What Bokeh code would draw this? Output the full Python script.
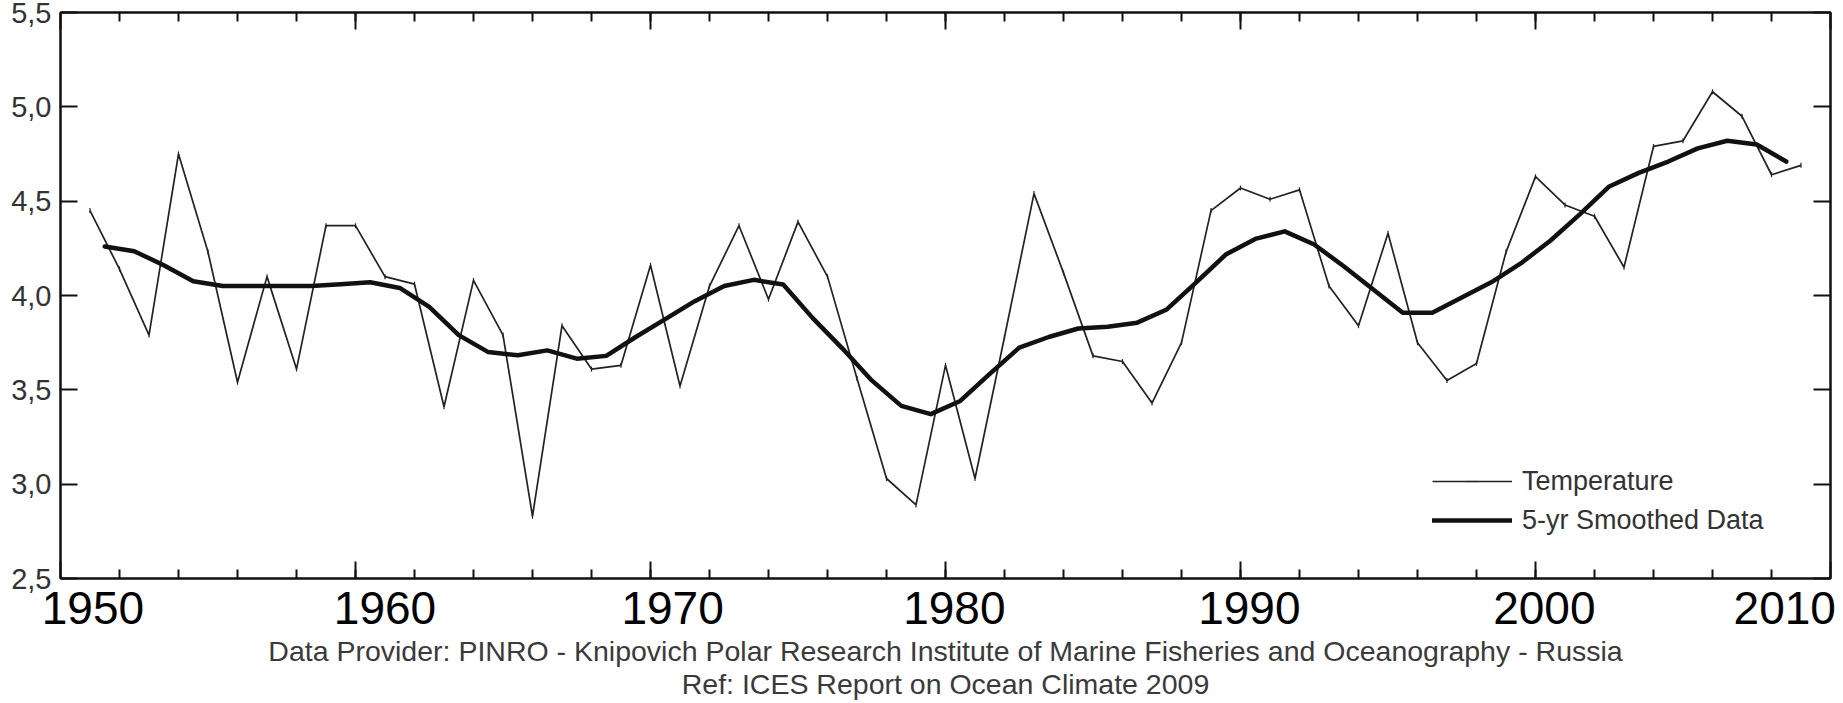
import math
from bokeh.plotting import figure
from bokeh.models import (Range1d, LinearAxis, FixedTicker, Legend, LegendItem,
                          CustomLabelingPolicy)
from bokeh.embed import file_html
from bokeh.resources import INLINE

# ---------------- data ----------------
years = list(range(1950, 2009))
temperature = [
    4.45, 4.14, 3.79, 4.75, 4.23, 3.54, 4.10, 3.61, 4.37, 4.37,   # 1950-1959
    4.10, 4.06, 3.41, 4.08, 3.79, 2.83, 3.84, 3.61, 3.63, 4.16,   # 1960-1969
    3.52, 4.05, 4.37, 3.98, 4.39, 4.10, 3.56, 3.03, 2.89, 3.63,   # 1970-1979
    3.03, 3.78, 4.54, 4.12, 3.68, 3.65, 3.43, 3.75, 4.45, 4.57,   # 1980-1989
    4.51, 4.56, 4.05, 3.84, 4.33, 3.75, 3.55, 3.64, 4.23, 4.63,   # 1990-1999
    4.48, 4.42, 4.15, 4.79, 4.82, 5.08, 4.95, 4.64, 4.69,         # 2000-2008
]
smooth_years = [y + 0.5 for y in range(1950, 2008)]
smoothed = [
    4.26, 4.235, 4.16, 4.076, 4.05, 4.05, 4.05, 4.05, 4.06, 4.07,   # 1950.5-1959.5
    4.04, 3.94, 3.79, 3.70, 3.683, 3.709, 3.665, 3.68, 3.78, 3.875, # 1960.5-1969.5
    3.97, 4.05, 4.083, 4.058, 3.88, 3.72, 3.55, 3.415, 3.371, 3.441,# 1970.5-1979.5
    3.585, 3.724, 3.78, 3.825, 3.834, 3.856, 3.926, 4.07, 4.217, 4.30,  # 1980.5-1989.5
    4.34, 4.27, 4.155, 4.032, 3.909, 3.909, 3.99, 4.07, 4.17, 4.29, # 1990.5-1999.5
    4.43, 4.578, 4.65, 4.71, 4.78, 4.82, 4.80, 4.71,                # 2000.5-2007.5
]
series_names = ["Temperature", "5-yr Smoothed Data"]

x_tick_labels = ["1950", "1960", "1970", "1980", "1990", "2000", "2010"]
x_tick_label_pos = [1950.1, 1960.0, 1969.75, 1979.3, 1989.3, 1999.3, 2007.45]
x_major_ticks = [1949, 1959, 1969, 1979, 1989, 1999, 2009]
x_minor_ticks = [y for y in range(1951, 2009, 2)]
y_ticks = [2.5, 3.0, 3.5, 4.0, 4.5, 5.0, 5.5]
y_tick_labels = ["2,5", "3,0", "3,5", "4,0", "4,5", "5,0", "5,5"]

footer_1 = ("Data Provider: PINRO - Knipovich Polar Research Institute of Marine "
            "Fisheries and Oceanography - Russia")
footer_2 = "Ref: ICES Report on Ocean Climate 2009"

FONT = "Liberation Sans"
INK = "#111111"

# ---------------- figure ----------------
p = figure(width=1843, height=703,
           x_range=Range1d(1949, 2009), y_range=Range1d(2.5, 5.5),
           output_backend="svg", toolbar_location=None,
           x_axis_type=None, y_axis_type=None,
           min_border_left=60, min_border_right=13,
           min_border_top=12, min_border_bottom=124)
p.grid.visible = False
p.outline_line_color = INK
p.outline_line_width = 2
p.background_fill_color = "white"
p.border_fill_color = "white"


def tick_axis(ticker, hide_labels=True):
    ax = LinearAxis(ticker=ticker)
    ax.axis_line_color = INK
    ax.axis_line_width = 2
    ax.major_tick_line_color = INK
    ax.major_tick_line_width = 2
    ax.minor_tick_line_color = INK
    ax.minor_tick_line_width = 2
    ax.major_tick_in = 17
    ax.major_tick_out = 0
    ax.minor_tick_in = 9
    ax.minor_tick_out = 0
    if hide_labels:
        ax.major_label_policy = CustomLabelingPolicy(code="return []")
        ax.major_label_text_font_size = "1px"
        ax.major_label_standoff = 0
    return ax


x_ticker = FixedTicker(ticks=x_major_ticks, minor_ticks=x_minor_ticks)

bottom_ticks = tick_axis(x_ticker)
p.add_layout(bottom_ticks, "below")

bottom_labels = LinearAxis(ticker=FixedTicker(ticks=x_tick_label_pos, minor_ticks=[]))
bottom_labels.major_label_overrides = {pos: lab for pos, lab in zip(x_tick_label_pos, x_tick_labels)}
bottom_labels.axis_line_color = None
bottom_labels.major_tick_line_color = None
bottom_labels.minor_tick_line_color = None
bottom_labels.major_tick_in = 0
bottom_labels.major_tick_out = 0
bottom_labels.major_label_text_font = FONT
bottom_labels.major_label_text_font_size = "46px"
bottom_labels.major_label_text_color = "#000000"
bottom_labels.major_label_standoff = 9
bottom_labels.axis_label = footer_1 + "\n" + footer_2
bottom_labels.axis_label_text_font = FONT
bottom_labels.axis_label_text_font_size = "28.5px"
bottom_labels.axis_label_text_font_style = "normal"
bottom_labels.axis_label_text_color = "#3a3a3a"
bottom_labels.axis_label_text_line_height = 1.05
bottom_labels.axis_label_standoff = 8
p.add_layout(bottom_labels, "below")

top_ticks = tick_axis(x_ticker)
p.add_layout(top_ticks, "above")

y_ticker = FixedTicker(ticks=y_ticks, minor_ticks=[])
left_axis = tick_axis(y_ticker, hide_labels=False)
left_axis.major_label_overrides = {t: lab for t, lab in zip(y_ticks, y_tick_labels)}
left_axis.major_label_text_font = FONT
left_axis.major_label_text_font_size = "29px"
left_axis.major_label_text_color = "#333333"
left_axis.major_label_standoff = 9
p.add_layout(left_axis, "left")

right_axis = tick_axis(y_ticker)
p.add_layout(right_axis, "right")

# ---------------- series ----------------
temp_line = p.line(years, temperature, line_color="#222222", line_width=1.7)
temp_marks = p.scatter(years, temperature, marker="dash", angle=math.pi / 2, size=5,
                       line_color="#222222", line_width=1.2)
smooth_line = p.line(smooth_years, smoothed, line_color=INK, line_width=4.5,
                     line_join="round", line_cap="round")

legend = Legend(items=[LegendItem(label=series_names[0], renderers=[temp_line, temp_marks]),
                       LegendItem(label=series_names[1], renderers=[smooth_line])],
                location=(1372, 42))
legend.padding = 0
legend.margin = 0
legend.spacing = 7
legend.glyph_width = 80
legend.glyph_height = 32
legend.label_height = 32
legend.label_standoff = 10
legend.label_text_font = FONT
legend.label_text_font_size = "27px"
legend.label_text_color = "#333333"
legend.border_line_color = None
legend.background_fill_alpha = 0
p.add_layout(legend, "center")

open("out.html", "w").write(file_html(p, INLINE))
